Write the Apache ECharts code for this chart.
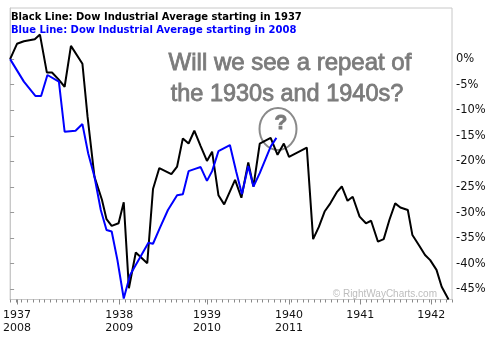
<!DOCTYPE html>
<html>
<head>
<meta charset="utf-8">
<script src="https://cdn.jsdelivr.net/npm/echarts@6/dist/echarts.min.js"></script>
<style>
  html, body { margin: 0; padding: 0; background: #fff; }
  #chart { width: 497px; height: 340px; }
</style>
</head>
<body>
<div id="chart"></div>
<script>
// Dow Industrial Average, % change from the starting point.
// x = sample number along the time axis, y = % change.
const dow1937 = [
  [0, 0], [1.2, 3.0], [2.4, 3.5], [4.3, 3.9], [5.2, 4.8], [6.4, -2.6], [7.3, -2.6],
  [8.4, -3.9], [9.5, -5.4], [10.6, 2.6], [12.6, -0.9], [13.5, -11.3], [14.7, -23.0],
  [16.0, -27.5], [16.8, -31.3], [17.7, -32.6], [18.9, -32.1], [19.8, -28.0], [20.7, -44.8],
  [21.9, -37.8], [23.9, -39.9], [24.9, -25.4], [26.0, -21.3], [28.1, -22.5], [29.1, -21.0],
  [30.1, -15.5], [31.1, -16.5], [32.1, -14.0], [33.2, -17.0], [34.3, -19.9], [35.2, -18.1],
  [36.3, -26.6], [37.3, -28.4], [39.2, -23.6], [40.3, -27.1], [41.5, -20.2], [42.4, -24.9],
  [43.5, -16.5], [45.4, -15.4], [46.6, -18.7], [47.7, -16.5], [48.6, -19.1], [51.7, -17.3],
  [52.8, -35.2], [53.8, -32.8], [54.8, -29.8], [55.8, -28.2], [57.0, -25.9], [57.8, -24.9],
  [58.8, -27.7], [59.7, -26.9], [60.9, -30.8], [62.0, -32.1], [62.9, -31.6], [64.1, -35.7],
  [65.1, -35.2], [66.1, -31.4], [67.1, -28.2], [68.0, -29.0], [69.3, -29.5], [70.1, -34.4],
  [71.3, -36.5], [72.3, -38.3], [73.2, -39.3], [74.3, -41.2], [75.2, -44.5], [76.4, -47.0]
];

const dow2008 = [
  [0, 0], [2.4, -4.4], [4.4, -7.2], [5.4, -7.2], [6.5, -3.1], [8.5, -4.4], [9.5, -14.2],
  [11.4, -14.0], [12.6, -12.7], [13.6, -18.4], [14.7, -23.0], [15.8, -29.5], [16.8, -33.4],
  [17.7, -33.7], [18.7, -39.3], [19.8, -46.8], [20.9, -42.2], [24.1, -35.9], [24.9, -36.1],
  [26.1, -33.0], [27.5, -29.5], [29.1, -26.6], [30.1, -26.4], [31.1, -21.9], [32.1, -21.5],
  [33.2, -21.1], [34.3, -23.8], [35.2, -21.9], [36.3, -18.0], [38.3, -16.8], [39.4, -22.0],
  [40.4, -26.4], [41.5, -20.9], [42.4, -24.9], [43.5, -22.3], [45.4, -17.1], [46.4, -15.4]
];

// Year boundaries on the shared time axis
const yearTickPos = [1.2, 19.0, 34.3, 48.6, 61.0, 73.4];
const years1930s = ['1937', '1938', '1939', '1940', '1941', '1942'];
const years2000s = ['2008', '2009', '2010', '2011'];

// Right-hand percentage scale
const pctTicks = [0, -5, -10, -15, -20, -25, -30, -35, -40, -45];

const legendBlack = 'Black Line: Dow Industrial Average starting in 1937';
const legendBlue = 'Blue Line: Dow Industrial Average starting in 2008';
const noteLines = ['Will we see a repeat of', 'the 1930s and 1940s?'];
const credit = '\u00A9 RightWayCharts.com';

const X_MAX = 77;
const axisFont = '"DejaVu Sans", Verdana, sans-serif';
const handFont = '"Liberation Sans", Arial, sans-serif';

function yearLabel(v) {
  let best = 0;
  for (let i = 1; i < yearTickPos.length; i++) {
    if (Math.abs(yearTickPos[i] - v) < Math.abs(yearTickPos[best] - v)) best = i;
  }
  return years2000s[best] ? years1930s[best] + '\n' + years2000s[best] : years1930s[best];
}

const chart = echarts.init(document.getElementById('chart'), null, { renderer: 'canvas' });

const noteStyle = (text, size) => ({
  text, fill: '#7b7b7b', stroke: '#7b7b7b', lineWidth: 0.8,
  font: size + 'px ' + handFont, textAlign: 'center', textVerticalAlign: 'middle'
});

chart.setOption({
  animation: false,
  backgroundColor: '#fff',
  grid: {
    left: 8, right: 45, top: 8, bottom: 40.5,
    show: true, borderColor: '#c8c8c8', borderWidth: 1, backgroundColor: 'transparent'
  },
  xAxis: [
    {
      type: 'value', min: 0, max: X_MAX, interval: 1,
      axisLine: { show: true, onZero: false, lineStyle: { color: '#c8c8c8' } },
      axisTick: { show: true, length: 3, lineStyle: { color: '#888' } },
      axisLabel: { show: false },
      splitLine: { show: false }
    },
    {
      type: 'value', min: 0, max: X_MAX, position: 'bottom',
      axisLine: { show: false, onZero: false },
      axisTick: { show: true, length: 5, customValues: yearTickPos, lineStyle: { color: '#888' } },
      axisLabel: {
        show: true, customValues: yearTickPos, formatter: yearLabel,
        margin: 9, fontFamily: axisFont, fontSize: 11, color: '#111', lineHeight: 13,
        verticalAlign: 'top'
      },
      splitLine: { show: false }
    }
  ],
  yAxis: {
    type: 'value', position: 'right', min: -47, max: 10,
    axisLine: { show: true, lineStyle: { color: '#c8c8c8' } },
    axisTick: { show: true, length: 4, customValues: pctTicks, lineStyle: { color: '#999' } },
    axisLabel: {
      customValues: pctTicks, formatter: v => v + '%',
      margin: 4, fontFamily: axisFont, fontSize: 11.5, color: '#111'
    },
    splitLine: { show: false }
  },
  series: [
    {
      type: 'line', name: 'Dow 1937', data: dow1937, xAxisIndex: 0,
      symbol: 'none', lineStyle: { color: '#000', width: 2 }, z: 3
    },
    {
      type: 'line', name: 'Dow 2008', data: dow2008, xAxisIndex: 0,
      symbol: 'none', lineStyle: { color: '#0000ff', width: 2 }, z: 4
    }
  ],
  graphic: [
    {
      type: 'text', x: 11, y: 17,
      style: { text: legendBlack, fill: '#000', font: 'bold 10px ' + axisFont, textVerticalAlign: 'middle' }
    },
    {
      type: 'text', x: 11, y: 30,
      style: { text: legendBlue, fill: '#0000ff', font: 'bold 10px ' + axisFont, textVerticalAlign: 'middle' }
    },
    { type: 'text', x: 290, y: 63, style: noteStyle(noteLines[0], 24) },
    { type: 'text', x: 287, y: 95, style: noteStyle(noteLines[1], 23.5) },
    {
      type: 'ellipse', shape: { cx: 278, cy: 129, rx: 18.5, ry: 21 },
      style: { fill: 'none', stroke: '#8a8a8a', lineWidth: 2 }, z: 1
    },
    { type: 'text', x: 281, y: 123, style: Object.assign(noteStyle('?', 21), { font: 'bold 21px ' + handFont }) },
    {
      type: 'text', x: 437, y: 294,
      style: { text: credit, fill: '#bdbdbd', font: '10px "Liberation Sans", Arial, sans-serif', textAlign: 'right', textVerticalAlign: 'middle' }
    }
  ]
});
</script>
</body>
</html>
